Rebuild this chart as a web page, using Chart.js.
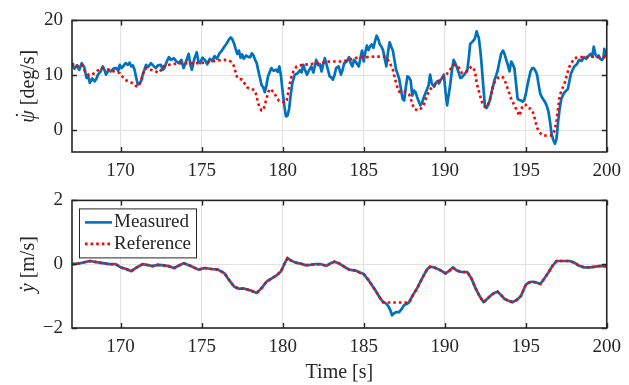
<!DOCTYPE html>
<html>
<head>
<meta charset="utf-8">
<script src="https://cdn.jsdelivr.net/npm/chart.js@4.4.1/dist/chart.umd.min.js"></script>
<style>
html,body{margin:0;padding:0;background:#fff;width:629px;height:385px;overflow:hidden}
#c1{position:absolute;left:0;top:0}
#c2{position:absolute;left:0;top:180px}
</style>
</head>
<body>
<canvas id="c1" width="629" height="180"></canvas>
<canvas id="c2" width="629" height="205"></canvas>
<script>
// ---------- data (time [s], value) ----------
const xTickValues = [170, 175, 180, 185, 190, 195, 200];
const yawTickValues = [0, 10, 20];
const latTickValues = [-2, 0, 2];
const seriesLabels = ['Measured', 'Reference'];

const yawRateMeasured = [
[167.0,12.0],[167.15,11.2],[167.3,11.8],[167.45,11.0],[167.6,12.2],[167.75,11.5],[167.9,9.5],[168.0,9.8],[168.1,8.6],[168.25,9.4],
[168.4,8.9],[168.5,9.3],[168.6,10.1],[168.75,10.6],[168.9,11.6],[169.0,11.0],[169.1,10.1],[169.25,10.9],[169.4,10.7],[169.55,11.2],
[169.75,11.3],[169.85,10.8],[169.95,11.9],[170.05,11.3],[170.15,11.6],[170.3,12.2],[170.45,11.9],[170.55,12.3],[170.66,11.6],[170.76,11.8],
[170.86,11.0],[170.96,9.6],[171.06,8.3],[171.2,8.6],[171.3,9.2],[171.36,10.1],[171.47,11.0],[171.57,11.9],[171.7,11.5],[171.87,12.2],
[172.0,11.8],[172.17,11.3],[172.3,11.8],[172.48,11.9],[172.6,11.0],[172.7,11.3],[172.85,12.5],[172.98,13.3],[173.1,12.8],[173.28,13.1],
[173.45,12.5],[173.59,12.2],[173.75,12.8],[173.89,11.3],[174.05,12.6],[174.2,13.9],[174.3,12.0],[174.4,11.0],[174.55,13.0],[174.7,14.2],
[174.8,12.5],[174.9,12.2],[175.05,13.2],[175.2,12.8],[175.35,12.0],[175.5,13.0],[175.65,12.6],[175.8,13.5],[175.95,13.0],[176.1,14.0],
[176.25,14.5],[176.4,15.2],[176.55,15.8],[176.7,16.6],[176.8,16.9],[176.9,16.5],[177.0,15.8],[177.1,14.8],[177.2,13.9],[177.3,14.5],
[177.4,13.2],[177.5,13.8],[177.6,13.0],[177.75,13.6],[177.9,13.3],[178.0,13.3],[178.1,14.0],[178.2,13.6],[178.3,12.8],[178.4,12.2],
[178.5,10.8],[178.6,9.5],[178.7,8.2],[178.8,7.8],[178.9,6.9],[179.0,8.2],[179.1,9.8],[179.2,10.6],[179.3,11.3],[179.45,10.8],
[179.6,11.0],[179.7,10.6],[179.8,11.6],[179.9,9.8],[180.0,7.0],[180.1,4.5],[180.2,2.5],[180.3,2.6],[180.4,3.9],[180.5,6.5],
[180.6,8.6],[180.75,10.1],[180.9,10.3],[181.06,10.9],[181.17,10.5],[181.27,11.9],[181.4,10.8],[181.5,10.1],[181.65,11.0],[181.77,11.6],
[181.9,10.5],[182.07,12.8],[182.2,11.8],[182.3,12.0],[182.4,10.7],[182.5,12.0],[182.6,13.1],[182.75,11.5],[182.9,9.8],[183.0,9.6],
[183.1,9.2],[183.2,10.0],[183.3,11.3],[183.45,11.6],[183.6,10.1],[183.7,11.0],[183.8,12.2],[183.95,12.5],[184.1,13.3],[184.2,12.2],
[184.3,11.6],[184.4,12.8],[184.5,12.5],[184.6,12.0],[184.7,11.6],[184.8,13.2],[184.9,14.5],[185.0,12.5],[185.1,14.2],[185.2,15.4],
[185.3,14.6],[185.4,15.3],[185.5,15.6],[185.6,15.0],[185.7,16.2],[185.8,17.2],[185.9,16.6],[186.0,15.6],[186.1,15.2],[186.2,14.5],
[186.3,13.0],[186.4,11.6],[186.5,14.2],[186.6,16.0],[186.7,15.2],[186.8,14.5],[186.9,12.8],[187.0,11.0],[187.1,10.2],[187.2,9.2],
[187.3,7.5],[187.4,5.7],[187.5,5.4],[187.6,7.8],[187.7,9.8],[187.8,9.6],[187.9,9.0],[188.0,6.3],[188.1,7.2],[188.2,6.9],
[188.3,6.0],[188.4,5.2],[188.5,4.5],[188.6,5.0],[188.7,5.9],[188.85,7.0],[189.0,8.1],[189.1,10.1],[189.2,8.5],[189.35,7.9],
[189.45,8.6],[189.55,8.9],[189.65,8.5],[189.75,9.2],[189.85,9.5],[189.95,10.1],[190.05,7.0],[190.15,4.5],[190.25,6.5],[190.35,8.5],
[190.45,11.0],[190.55,12.8],[190.65,12.2],[190.76,11.4],[190.86,10.5],[190.96,9.5],[191.06,9.6],[191.2,10.1],[191.3,10.5],[191.4,11.0],
[191.5,13.5],[191.57,15.7],[191.67,16.0],[191.77,16.3],[191.87,16.8],[191.97,18.0],[192.05,17.2],[192.1,16.9],[192.2,14.5],[192.27,12.2],
[192.38,8.0],[192.48,4.5],[192.58,4.0],[192.68,4.6],[192.78,5.4],[192.9,7.0],[193.0,8.2],[193.08,9.2],[193.18,10.0],[193.28,11.0],
[193.38,12.5],[193.48,13.9],[193.6,14.5],[193.7,13.8],[193.8,12.8],[193.9,11.8],[194.0,10.7],[194.1,12.5],[194.2,12.0],[194.3,11.3],
[194.4,8.5],[194.5,5.7],[194.6,5.5],[194.7,5.4],[194.8,5.2],[194.9,5.4],[195.0,6.5],[195.1,8.1],[195.2,9.5],[195.3,10.7],
[195.4,11.3],[195.5,11.3],[195.6,10.8],[195.7,10.1],[195.8,8.2],[195.9,6.6],[196.0,6.0],[196.1,5.5],[196.2,5.1],[196.3,4.4],
[196.4,3.4],[196.5,1.5],[196.6,-0.8],[196.7,-1.8],[196.8,-2.5],[196.9,-1.6],[197.0,1.6],[197.1,4.0],[197.2,5.7],[197.3,6.4],
[197.4,6.9],[197.5,7.2],[197.6,7.5],[197.7,9.0],[197.8,10.4],[197.9,11.0],[198.0,11.6],[198.15,12.0],[198.3,12.8],[198.45,12.6],
[198.6,13.3],[198.75,13.0],[198.9,13.6],[199.0,13.9],[199.1,13.4],[199.2,15.2],[199.3,13.8],[199.4,13.3],[199.5,13.6],[199.6,13.0],
[199.7,12.8],[199.8,13.2],[199.85,14.8],[199.92,13.5],[200.0,13.8]
];

const yawRateReference = [
[167.0,12.2],[167.15,11.8],[167.3,11.6],[167.45,12.0],[167.6,11.9],[167.75,11.0],[167.9,10.4],[168.05,10.0],[168.2,10.1],[168.4,10.4],
[168.55,10.8],[168.7,11.0],[168.85,11.3],[169.0,11.3],[169.15,11.1],[169.3,11.0],[169.45,10.8],[169.6,10.7],[169.8,10.5],[169.95,10.4],
[170.1,9.8],[170.25,9.2],[170.4,9.0],[170.55,8.8],[170.7,8.6],[170.86,8.3],[170.96,8.0],[171.06,7.9],[171.15,8.2],[171.2,8.6],
[171.3,9.4],[171.36,10.1],[171.47,10.9],[171.57,11.3],[171.7,11.2],[171.87,11.0],[172.0,10.9],[172.17,10.7],[172.3,10.5],[172.4,10.5],
[172.5,11.0],[172.6,11.6],[172.8,11.8],[173.0,11.9],[173.4,12.1],[173.8,12.2],[174.3,12.2],[174.8,12.2],[175.2,12.3],[175.6,12.5],
[176.0,12.7],[176.4,12.8],[176.65,12.7],[176.8,12.5],[176.9,12.2],[177.0,11.6],[177.1,10.5],[177.2,9.5],[177.35,9.3],[177.5,9.2],
[177.65,8.5],[177.8,7.8],[177.95,7.6],[178.1,7.5],[178.3,7.2],[178.4,6.0],[178.5,4.8],[178.6,4.0],[178.7,3.6],[178.8,3.6],
[178.9,4.6],[179.0,5.7],[179.1,6.8],[179.2,7.5],[179.3,7.3],[179.45,6.9],[179.6,6.1],[179.75,5.4],[179.9,5.2],[180.05,5.1],
[180.15,5.0],[180.25,5.4],[180.35,7.0],[180.45,8.6],[180.55,9.8],[180.66,10.7],[180.76,11.2],[180.86,11.6],[181.05,11.8],[181.27,11.9],
[181.6,12.0],[182.07,12.2],[182.5,12.3],[182.9,12.5],[183.3,12.5],[183.7,12.5],[184.2,12.9],[184.7,13.3],[185.2,13.3],[185.7,13.4],
[186.0,13.4],[186.3,13.4],[186.4,13.2],[186.5,12.8],[186.65,12.0],[186.8,11.0],[186.9,9.8],[187.0,8.6],[187.1,7.6],[187.2,7.0],
[187.35,7.0],[187.5,7.0],[187.65,6.8],[187.8,6.5],[187.95,5.3],[188.1,3.9],[188.25,3.7],[188.4,3.6],[188.55,4.0],[188.7,4.5],
[188.8,5.4],[188.9,6.3],[189.05,7.1],[189.2,7.8],[189.35,8.2],[189.5,8.6],[189.65,9.0],[189.8,9.5],[189.95,9.8],[190.1,10.1],
[190.25,10.7],[190.4,11.3],[190.5,11.7],[190.6,11.9],[190.75,11.7],[190.9,11.3],[191.06,10.4],[191.2,10.5],[191.36,10.7],[191.5,11.2],
[191.67,11.6],[191.77,11.3],[191.87,10.7],[191.97,8.6],[192.08,7.4],[192.18,6.3],[192.28,5.3],[192.38,4.5],[192.48,4.2],[192.58,4.2],
[192.68,4.7],[192.78,5.4],[192.88,6.7],[192.98,8.1],[193.08,8.7],[193.18,9.2],[193.33,9.6],[193.48,9.8],[193.6,9.6],[193.69,9.2],
[193.79,8.4],[193.89,7.5],[194.0,6.6],[194.1,5.7],[194.2,5.1],[194.3,4.5],[194.45,3.6],[194.6,2.6],[194.7,3.4],[194.8,4.4],
[194.9,4.6],[195.0,4.6],[195.15,4.0],[195.3,3.9],[195.4,3.6],[195.5,2.8],[195.6,1.6],[195.7,0.4],[195.85,-0.4],[196.0,-0.9],
[196.2,-1.0],[196.4,-1.0],[196.55,-1.0],[196.7,-0.8],[196.8,0.2],[196.9,1.6],[197.0,4.0],[197.1,6.3],[197.25,7.5],[197.4,8.6],
[197.55,10.2],[197.7,11.6],[197.85,12.4],[198.0,13.1],[198.3,13.3],[198.6,13.3],[199.0,13.4],[199.4,13.3],[199.85,13.3],[200.0,13.3]
];

const latVelReference = [
[167.0,0.0],[167.5,0.03],[168.1,0.1],[168.7,0.05],[169.3,0.0],[169.7,0.0],[170.0,-0.1],[170.35,-0.15],[170.66,-0.22],[171.0,-0.1],
[171.36,0.0],[171.7,-0.03],[171.97,-0.06],[172.3,-0.02],[172.58,-0.03],[172.95,-0.06],[173.3,-0.12],[173.6,-0.04],[173.9,0.03],[174.3,-0.05],
[174.8,-0.17],[175.2,-0.12],[175.6,-0.15],[176.0,-0.17],[176.4,-0.28],[176.7,-0.5],[177.0,-0.7],[177.3,-0.77],[177.6,-0.76],[178.0,-0.82],
[178.4,-0.9],[178.7,-0.75],[179.0,-0.55],[179.3,-0.45],[179.6,-0.36],[179.9,-0.22],[180.1,0.0],[180.3,0.19],[180.5,0.12],[180.8,0.05],
[181.1,0.02],[181.4,-0.03],[181.7,-0.02],[182.0,0.0],[182.35,0.0],[182.7,-0.05],[183.0,0.04],[183.2,0.08],[183.5,0.02],[183.8,-0.08],
[184.1,-0.17],[184.5,-0.2],[184.8,-0.27],[185.0,-0.31],[185.3,-0.5],[185.7,-0.8],[186.0,-1.05],[186.2,-1.19],[186.5,-1.2],[187.0,-1.2],
[187.5,-1.2],[187.8,-1.2],[188.0,-1.0],[188.3,-0.75],[188.6,-0.45],[188.9,-0.17],[189.1,-0.08],[189.35,-0.1],[189.7,-0.18],[190.05,-0.29],
[190.3,-0.2],[190.5,-0.1],[190.75,-0.2],[191.0,-0.24],[191.4,-0.25],[191.65,-0.45],[191.9,-0.75],[192.15,-1.0],[192.4,-1.19],[192.6,-1.1],
[192.8,-1.0],[193.0,-0.92],[193.26,-0.86],[193.5,-0.98],[193.7,-1.09],[193.95,-1.15],[194.2,-1.19],[194.45,-1.12],[194.7,-1.0],[195.0,-0.65],
[195.2,-0.57],[195.4,-0.55],[195.65,-0.57],[195.9,-0.62],[196.15,-0.45],[196.4,-0.26],[196.65,-0.05],[196.9,0.1],[197.3,0.1],[197.7,0.1],
[198.0,0.05],[198.3,-0.05],[198.6,-0.1],[199.0,-0.1],[199.4,-0.07],[199.7,-0.05],[200.0,-0.07]
];

const latVelMeasured = [
[167.0,0.0],[167.5,0.03],[168.1,0.1],[168.7,0.05],[169.3,0.0],[169.7,0.0],[170.0,-0.1],[170.35,-0.15],[170.66,-0.22],[171.0,-0.1],
[171.36,0.0],[171.7,-0.03],[171.97,-0.06],[172.3,-0.02],[172.58,-0.03],[172.95,-0.06],[173.3,-0.12],[173.6,-0.04],[173.9,0.03],[174.3,-0.05],
[174.8,-0.17],[175.2,-0.12],[175.6,-0.15],[176.0,-0.17],[176.4,-0.28],[176.7,-0.5],[177.0,-0.7],[177.3,-0.77],[177.6,-0.76],[178.0,-0.82],
[178.4,-0.9],[178.7,-0.75],[179.0,-0.55],[179.3,-0.45],[179.6,-0.36],[179.9,-0.22],[180.1,0.0],[180.3,0.19],[180.5,0.12],[180.8,0.05],
[181.1,0.02],[181.4,-0.03],[181.7,-0.02],[182.0,0.0],[182.35,0.0],[182.7,-0.05],[183.0,0.04],[183.2,0.08],[183.5,0.02],[183.8,-0.08],
[184.1,-0.17],[184.5,-0.2],[184.8,-0.27],[185.0,-0.31],[185.3,-0.5],[185.7,-0.8],[186.0,-1.05],[186.2,-1.19],[186.35,-1.22],[186.5,-1.3],
[186.65,-1.45],[186.75,-1.6],[186.85,-1.55],[187.0,-1.5],[187.2,-1.5],[187.35,-1.4],[187.5,-1.28],[187.65,-1.25],[187.8,-1.2],[188.0,-1.0],
[188.3,-0.75],[188.6,-0.45],[188.9,-0.17],[189.1,-0.08],[189.35,-0.1],[189.7,-0.18],[190.05,-0.29],[190.3,-0.2],[190.5,-0.1],[190.75,-0.2],
[191.0,-0.24],[191.4,-0.25],[191.65,-0.45],[191.9,-0.75],[192.15,-1.0],[192.4,-1.19],[192.6,-1.1],[192.8,-1.0],[193.0,-0.92],[193.26,-0.86],
[193.5,-0.98],[193.7,-1.09],[193.95,-1.15],[194.2,-1.19],[194.45,-1.12],[194.7,-1.0],[195.0,-0.65],[195.2,-0.57],[195.4,-0.55],[195.65,-0.57],
[195.9,-0.62],[196.15,-0.45],[196.4,-0.26],[196.65,-0.05],[196.9,0.1],[197.3,0.1],[197.7,0.1],[198.0,0.05],[198.3,-0.05],[198.6,-0.1],
[199.0,-0.1],[199.4,-0.07],[199.7,-0.05],[200.0,-0.07]
];

// ---------- styling ----------
const FAM = '"Liberation Serif", "DejaVu Serif", serif';
const INK = '#262626';
const BLUE = '#0072BD';
const RED = '#FF0000';
const toXY = arr => arr.map(([x, y]) => ({x, y}));
const fmt = v => (v < 0 ? '\u2212' + Math.abs(v) : String(v));

const matlabAxes = {
  id: 'matlabAxes',
  afterDraw(chart) {
    const {ctx, chartArea: a, scales} = chart;
    ctx.save();
    ctx.strokeStyle = INK;
    ctx.lineWidth = 1.4;
    const L = 5;
    ctx.beginPath();
    scales.x.ticks.forEach(t => {
      const px = Math.round(scales.x.getPixelForValue(t.value)) + 0.5;
      ctx.moveTo(px, a.bottom); ctx.lineTo(px, a.bottom - L);
      ctx.moveTo(px, a.top); ctx.lineTo(px, a.top + L);
    });
    scales.y.ticks.forEach(t => {
      const py = Math.round(scales.y.getPixelForValue(t.value)) + 0.5;
      ctx.moveTo(a.left, py); ctx.lineTo(a.left + L, py);
      ctx.moveTo(a.right, py); ctx.lineTo(a.right - L, py);
    });
    ctx.stroke();
    ctx.lineWidth = 1.6;
    ctx.strokeRect(a.left, a.top, a.right - a.left, a.bottom - a.top);
    ctx.restore();
  }
};

// y-axis title: italic symbol with a dot accent, then the unit in upright type
const yTitle = {
  id: 'yTitle',
  afterDraw(chart, args, o) {
    const {ctx, chartArea: a} = chart;
    const s = o.size;
    ctx.save();
    ctx.translate(o.x, (a.top + a.bottom) / 2);
    ctx.rotate(-Math.PI / 2);
    ctx.fillStyle = INK;
    ctx.textBaseline = 'alphabetic';
    ctx.textAlign = 'left';
    const f1 = 'italic ' + s + 'px ' + FAM, f2 = s + 'px ' + FAM;
    ctx.font = f1; const w1 = ctx.measureText(o.sym).width;
    ctx.font = f2; const w2 = ctx.measureText(o.rest).width;
    const x0 = -(w1 + w2) / 2, base = s * 0.3;
    ctx.font = f1; ctx.fillText(o.sym, x0, base);
    ctx.font = f2;
    ctx.textAlign = 'center';
    ctx.fillText('\u02D9', x0 + w1 / 2 + s * o.dotShift, base - s * o.dotRaise);
    ctx.textAlign = 'left';
    ctx.fillText(o.rest, x0 + w1, base);
    ctx.restore();
  }
};

const boxLegend = {
  id: 'boxLegend',
  afterDraw(chart, args, o) {
    if (!o.show) return;
    const {ctx, chartArea: a} = chart;
    const x = a.left + 7, y = a.top + 8, w = 117, h = 49;
    ctx.save();
    ctx.fillStyle = '#fff';
    ctx.fillRect(x, y, w, h);
    ctx.strokeStyle = INK; ctx.lineWidth = 1;
    ctx.strokeRect(x + 0.5, y + 0.5, w, h);
    const rows = [
      {label: seriesLabels[0], color: BLUE, dash: [], yy: y + 14},
      {label: seriesLabels[1], color: RED, dash: [2.6, 3], yy: y + 35.5}
    ];
    ctx.font = '19px ' + FAM;
    ctx.textBaseline = 'middle';
    ctx.textAlign = 'left';
    rows.forEach(r => {
      ctx.beginPath();
      ctx.setLineDash(r.dash);
      ctx.strokeStyle = r.color; ctx.lineWidth = 2.6;
      ctx.moveTo(x + 6, r.yy); ctx.lineTo(x + 33, r.yy);
      ctx.stroke();
      ctx.setLineDash([]);
      ctx.fillStyle = INK;
      ctx.fillText(r.label, x + 35, r.yy);
    });
    ctx.restore();
  }
};

function makeScales(yMin, yMax, yTicks, xHeight, xTitle) {
  return {
    x: {
      type: 'linear', min: 167, max: 200,
      afterBuildTicks: s => { s.ticks = xTickValues.map(v => ({value: v})); },
      afterFit: s => { s.height = xHeight; },
      grid: {color: '#e2e2e2', lineWidth: 1, drawTicks: false},
      border: {display: false},
      ticks: {padding: 8, color: INK, font: {family: FAM, size: 19}, maxRotation: 0, autoSkip: false},
      title: xTitle ? {display: true, text: xTitle, color: INK, font: {family: FAM, size: 20}, padding: {top: 0, bottom: 0}} : {display: false}
    },
    y: {
      type: 'linear', min: yMin, max: yMax,
      afterBuildTicks: s => { s.ticks = yTicks.map(v => ({value: v})); },
      afterFit: s => { s.width = 72; },
      grid: {color: '#e2e2e2', lineWidth: 1, drawTicks: false},
      border: {display: false},
      ticks: {padding: 9, color: INK, font: {family: FAM, size: 19}, callback: v => fmt(v)}
    }
  };
}

function datasets(meas, ref) {
  return [
    {label: seriesLabels[1], data: toXY(ref), borderColor: RED, borderWidth: 2.6, borderDash: [2.6, 3],
     pointRadius: 0, tension: 0, fill: false, order: 0, borderCapStyle: 'butt'},
    {label: seriesLabels[0], data: toXY(meas), borderColor: BLUE, borderWidth: 2.7,
     pointRadius: 0, tension: 0, fill: false, order: 1, borderJoinStyle: 'round'}
  ];
}

new Chart(document.getElementById('c1'), {
  type: 'line',
  data: {datasets: datasets(yawRateMeasured, yawRateReference)},
  options: {
    responsive: false, animation: false, devicePixelRatio: 1,
    layout: {padding: {top: 16, right: 14, left: 0, bottom: 0}},
    plugins: {legend: {display: false}, tooltip: {enabled: false},
      yTitle: {x: 28, size: 20, sym: '\u03C8', rest: ' [deg/s]', dotShift: 0.08, dotRaise: 0.22},
      boxLegend: {show: false}},
    scales: makeScales(-4, 20, yawTickValues, 28, null)
  },
  plugins: [matlabAxes, yTitle, boxLegend]
});

new Chart(document.getElementById('c2'), {
  type: 'line',
  data: {datasets: datasets(latVelMeasured, latVelReference)},
  options: {
    responsive: false, animation: false, devicePixelRatio: 1,
    layout: {padding: {top: 11, right: 14, left: 0, bottom: 0}},
    plugins: {legend: {display: false}, tooltip: {enabled: false},
      yTitle: {x: 28, size: 20, sym: 'y', rest: ' [m/s]', dotShift: 0.0, dotRaise: 0.0},
      boxLegend: {show: true}},
    scales: makeScales(-2, 2, latTickValues, 57, 'Time [s]')
  },
  plugins: [matlabAxes, yTitle, boxLegend]
});
</script>
</body>
</html>
